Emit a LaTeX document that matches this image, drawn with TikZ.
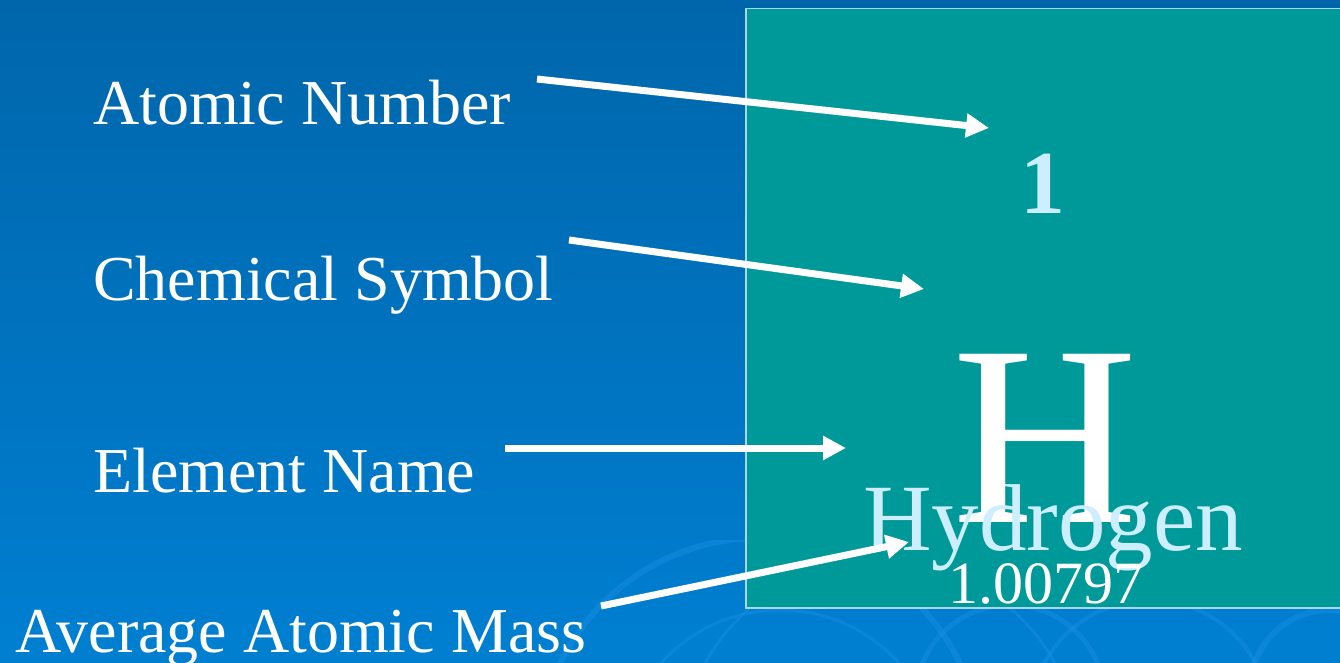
\documentclass[tikz,border=0pt]{standalone}
\usepackage{fontspec}
\setmainfont{Liberation Serif}
\usetikzlibrary{arrows.meta}
\definecolor{bgtop}{HTML}{0066AB}
\definecolor{bgbot}{HTML}{007FD1}
\definecolor{tealbox}{HTML}{009999}
\definecolor{boxline}{HTML}{A8D8E2}
\definecolor{lightblue}{HTML}{CCEEFF}
\definecolor{swirl}{HTML}{1A8FE6}
\tikzset{
  label/.style={anchor=base west, inner sep=0pt, text=white, font=\fontsize{64}{64}\selectfont},
  pointer/.style={draw=white, line width=7pt, -{Triangle[length=23pt,width=23pt]}},
  swirlline/.style={draw=swirl, opacity=0.45},
}
\begin{document}
\begin{tikzpicture}[x=1pt,y=-1pt]
\useasboundingbox (0,0) rectangle (1340,663);
\shade[top color=bgtop, bottom color=bgbot] (0,0) rectangle (1340,663);
% faint background swirls
\begin{scope}
\clip (0,540) rectangle (1340,663);
\draw[swirlline, line width=6pt] (760,760) circle[radius=222];
\draw[swirlline, line width=3pt] (780,770) circle[radius=160];
\draw[swirlline, line width=5pt] (1010,700) circle[radius=95];
\draw[swirlline, line width=4pt] (1150,720) circle[radius=120];
\draw[swirlline, line width=6pt] (1330,690) circle[radius=80];
\draw[swirlline, line width=3pt] (880,760) circle[radius=200];
\end{scope}
% element box
\node[draw=boxline, line width=1.5pt, fill=tealbox, inner sep=0pt, minimum width=600pt, minimum height=599pt, anchor=north west] (box) at (745,8) {};
% element content
\node[anchor=base, inner sep=0pt, text=lightblue, font=\fontsize{90}{90}\selectfont\bfseries] (num) at (1043,213) {1};
\node[anchor=base, inner sep=0pt, text=white, font=\fontsize{257}{257}\selectfont] (sym) at (1045,522) {H};
\node[anchor=base, inner sep=0pt, text=lightblue, font=\fontsize{95}{95}\selectfont] (name) at (1053,550) {Hydrogen};
\node[anchor=base, inner sep=0pt, text=white, font=\fontsize{60}{60}\selectfont] (mass) at (1046,603) {1.00797};
% labels
\node[label] (lnum) at (93,125) {Atomic Number};
\node[label] (lsym) at (93,300) {Chemical Symbol};
\node[label] (lname) at (93,492) {Element Name};
\node[label] (lmass) at (15,652) {Average Atomic Mass};
% arrow coordinates
\coordinate (a1s) at (537,79);
\coordinate (a1e) at (989,128);
\coordinate (a2s) at (569,240);
\coordinate (a2e) at (924,289);
\coordinate (a3s) at (505,448);
\coordinate (a3e) at (846,448);
\coordinate (a4s) at (601,606);
\coordinate (a4e) at (909,542);
\draw[pointer] (a1s) -- (a1e);
\draw[pointer] (a2s) -- (a2e);
\draw[pointer] (a3s) -- (a3e);
\draw[pointer] (a4s) -- (a4e);
\end{tikzpicture}
\end{document}
